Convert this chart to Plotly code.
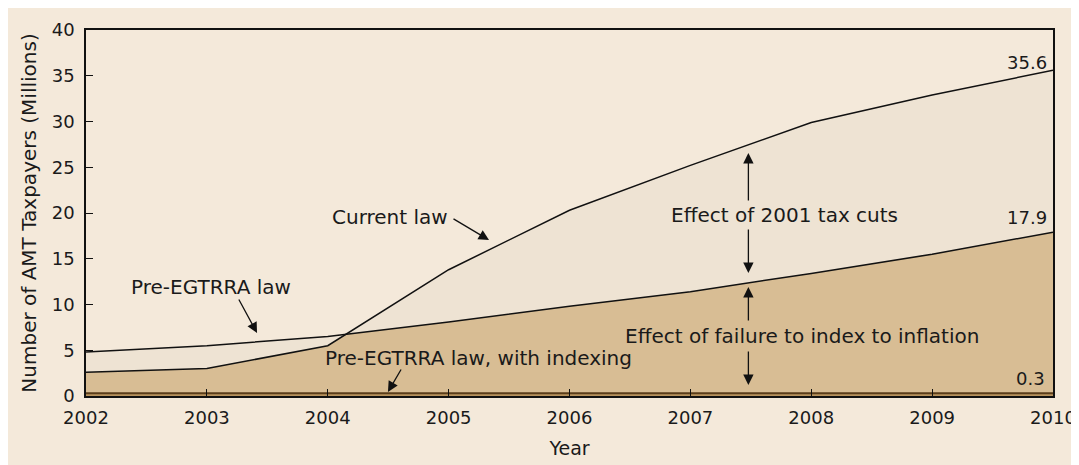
import plotly.graph_objects as go

# ---- data ----
years = [2002, 2003, 2004, 2005, 2006, 2007, 2008, 2009, 2010]
current_law = [2.6, 3.0, 5.5, 13.8, 20.3, 25.2, 29.9, 32.9, 35.6]
pre_egtrra = [4.8, 5.5, 6.5, 8.1, 9.8, 11.4, 13.4, 15.5, 17.9]
pre_egtrra_indexed = [0.3, 0.3, 0.3, 0.3, 0.3, 0.3, 0.3, 0.3, 0.3]
y_ticks = [0, 5, 10, 15, 20, 25, 30, 35, 40]

FONT = "DejaVu Sans"
FS = 18
FS_LABEL = 20
BG = "#F4E9DA"
LIGHT = "#EEE3D3"
DARK = "#D8BD94"


def envelope(xs, a, b):
    """upper and lower envelopes of two piecewise-linear series, with crossings."""
    ex, up, lo = [xs[0]], [max(a[0], b[0])], [min(a[0], b[0])]
    for i in range(1, len(xs)):
        d0 = a[i - 1] - b[i - 1]
        d1 = a[i] - b[i]
        if d0 * d1 < 0:
            t = d0 / (d0 - d1)
            xc = xs[i - 1] + t * (xs[i] - xs[i - 1])
            yc = a[i - 1] + t * (a[i] - a[i - 1])
            ex.append(xc); up.append(yc); lo.append(yc)
        ex.append(xs[i]); up.append(max(a[i], b[i])); lo.append(min(a[i], b[i]))
    return ex, up, lo


ex, upper, lower = envelope(years, current_law, pre_egtrra)

fig = go.Figure()
fig.add_trace(go.Scatter(x=ex, y=upper, mode="lines", line=dict(width=0),
                         fill="tozeroy", fillcolor=LIGHT, hoverinfo="skip"))
fig.add_trace(go.Scatter(x=ex, y=lower, mode="lines", line=dict(width=0),
                         fill="tozeroy", fillcolor=DARK, hoverinfo="skip"))
fig.add_trace(go.Scatter(x=years, y=current_law, mode="lines", name="Current law",
                         line=dict(color="#111111", width=1.5)))
fig.add_trace(go.Scatter(x=years, y=pre_egtrra, mode="lines", name="Pre-EGTRRA law",
                         line=dict(color="#111111", width=1.5)))
fig.add_trace(go.Scatter(x=years, y=pre_egtrra_indexed, mode="lines",
                         name="Pre-EGTRRA law, with indexing",
                         line=dict(color="#5a3d1a", width=2),
                         fill="tozeroy", fillcolor="#B8935E"))

annos = []


def label(text, x, y, xanchor="center", xshift=0, size=FS_LABEL):
    annos.append(dict(text=text, x=x, y=y, xref="x", yref="y", showarrow=False,
                      xanchor=xanchor, yanchor="middle", xshift=xshift,
                      font=dict(family=FONT, size=size, color="#1a1a1a")))


def arrow(x, y, ax, ay):
    annos.append(dict(text="", x=x, y=y, xref="x", yref="y", ax=ax, ay=ay,
                      axref="pixel", ayref="pixel", showarrow=True, arrowhead=2,
                      arrowsize=1.6, arrowwidth=1.3, arrowcolor="#111111"))


label("Current law", 2004.511, 19.56)
arrow(2005.334, 17.05, -37, -22)
label("Pre-EGTRRA law", 2003.034, 11.91)
arrow(2003.415, 6.89, -19, -35)
label("Pre-EGTRRA law, with indexing", 2005.243, 4.15)
arrow(2004.498, 0.44, 14, -24)
label("Effect of 2001 tax cuts", 2007.775, 19.78)
arrow(2007.48, 26.56, 0, 49)
arrow(2007.48, 13.44, 0, -45)
label("Effect of failure to index to inflation", 2007.923, 6.56)
arrow(2007.48, 11.9, 0, 35)
arrow(2007.48, 1.2, 0, -35)
label(f"{current_law[-1]:.1f}", years[-1], 36.5, xanchor="right", xshift=-4, size=FS)
label(f"{pre_egtrra[-1]:.1f}", years[-1], 19.56, xanchor="right", xshift=-4, size=FS)
label(f"{pre_egtrra_indexed[-1]:.1f}", years[-1], 1.86, xanchor="right", xshift=-6, size=FS)

W, H = 1095, 480
ml, mt = 78, 22
mr = W - 1045
mb = H - 388

fig.update_layout(
    width=W, height=H,
    margin=dict(l=ml, r=mr, t=mt, b=mb, autoexpand=False),
    paper_bgcolor=BG, plot_bgcolor=BG,
    showlegend=False,
    font=dict(family=FONT, size=FS, color="#1a1a1a"),
    annotations=annos,
    xaxis=dict(range=[years[0], years[-1]], tickvals=years, ticks="inside", ticklen=7,
               tickwidth=1.3, tickcolor="#111111", showgrid=False, zeroline=False,
               showline=True, linecolor="#111111", linewidth=1.5, mirror=True,
               ticklabelstandoff=5, automargin=False,
               title=dict(text="Year", standoff=14, font=dict(size=FS_LABEL - 1))),
    yaxis=dict(range=[0, 40], tickvals=y_ticks, ticks="inside", ticklen=7,
               tickwidth=1.3, tickcolor="#111111", showgrid=False, zeroline=False,
               showline=True, linecolor="#111111", linewidth=1.5, mirror=True,
               ticklabelstandoff=6, automargin=False,
               title=dict(text="Number of AMT Taxpayers (Millions)", standoff=10,
                          font=dict(size=FS_LABEL))),
)

fig.write_html("out.html")
